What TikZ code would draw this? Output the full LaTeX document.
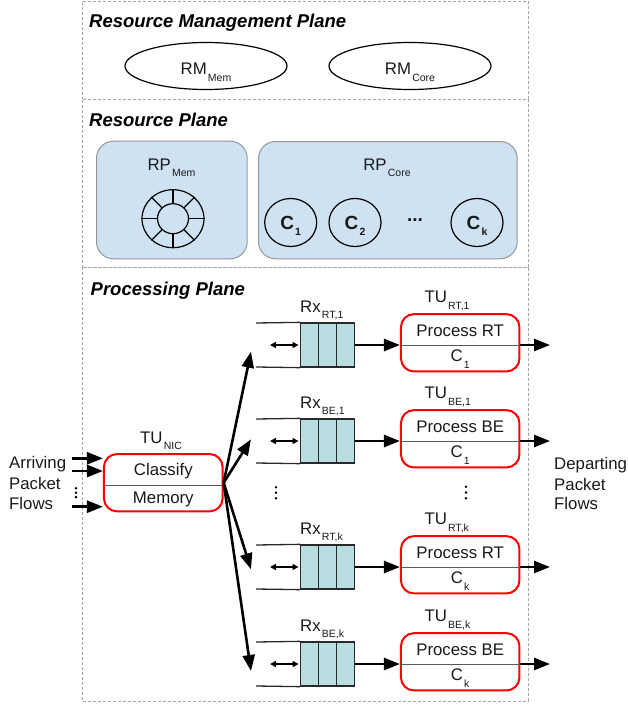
\documentclass[tikz,border=0pt]{standalone}
\usepackage{fontspec}
\setmainfont{Liberation Sans}
\usetikzlibrary{arrows.meta,shapes.geometric}
\definecolor{dashgray}{RGB}{165,165,165}
\definecolor{rpfill}{RGB}{207,226,243}
\definecolor{rpedge}{RGB}{150,150,150}
\definecolor{qfill}{RGB}{184,222,226}
\definecolor{qedge}{RGB}{40,40,40}
\definecolor{tured}{RGB}{255,0,0}
\definecolor{txt}{RGB}{25,25,25}
\newcommand{\sbl}[2]{#1\kern1.2pt\raisebox{-6.5pt}{\fontsize{10.5}{12}\selectfont #2}}
\tikzset{
  plane/.style={draw=dashgray, line width=0.8pt, dash pattern=on 3pt off 2pt, inner sep=0pt, outer sep=0pt, anchor=north west},
  ptitle/.style={anchor=base west, inner sep=0pt, font=\fontsize{18.5}{22}\selectfont\bfseries\itshape},
  lbl/.style={inner sep=0pt, text=txt},
  rmell/.style={ellipse, draw, line width=1.2pt, minimum width=162pt, minimum height=47pt, inner sep=0pt},
  rpbox/.style={draw=rpedge, fill=rpfill, line width=1pt, rounded corners=17pt, inner sep=0pt, anchor=north west},
  core/.style={ellipse, draw, line width=1.2pt, minimum width=52pt, minimum height=48pt, inner sep=0pt},
  corelbl/.style={lbl, anchor=base, font=\fontsize{19}{22}\selectfont\bfseries},
  ringo/.style={ellipse, draw, line width=1.2pt, minimum width=62pt, minimum height=58pt, inner sep=0pt},
  ringi/.style={ellipse, draw, line width=1.2pt, minimum width=31pt, minimum height=30pt, inner sep=0pt},
  tubox/.style={draw=tured, line width=2pt, rounded corners=13pt, minimum width=118.5pt, minimum height=57.3pt, inner sep=0pt},
  divider/.style={draw=black!65, line width=0.9pt},
  qbox/.style={draw=qedge, fill=qfill, line width=1.3pt, minimum width=54pt, minimum height=44pt, inner sep=0pt},
  qline/.style={draw=qedge, line width=1.3pt},
  bigarrow/.style={line width=2.6pt, -{Triangle[length=16pt,width=12pt]}},
  darrow/.style={line width=1.5pt, {Triangle[length=6pt,width=6pt]}-{Triangle[length=6pt,width=6pt]}},
}
\newcommand{\makerow}[7]{%
  \node[qbox] (q#1) at (327.7,#2) {};
  \draw[qline] ([xshift=-9pt]q#1.north) -- ([xshift=-9pt]q#1.south);
  \draw[qline] ([xshift=9pt]q#1.north) -- ([xshift=9pt]q#1.south);
  \coordinate (qt#1) at (256,#2-22);
  \coordinate (qb#1) at (256,#2+22);
  \draw[qline] (qt#1) -- (q#1.north west);
  \draw[qline] (qb#1) -- (q#1.south west);
  \coordinate (dl#1) at (270,#2);
  \draw[darrow] (dl#1) -- ([xshift=-1.5pt]q#1.west);
  \node[tubox] (tu#1) at (460.2,#2-2.2) {};
  \draw[divider] (q#1.east -| tu#1.west) -- (q#1.east -| tu#1.east);
  \draw[bigarrow] (q#1.east) -- (q#1.east -| tu#1.west);
  \coordinate (o#1) at (550,#2);
  \draw[bigarrow] (q#1.east -| tu#1.east) -- (o#1);
  \node[lbl, anchor=base] (tp#1) at (460.2,#2-8.4) {#5};
  \node[lbl, anchor=base] (tb#1) at (460.2,#2+16.7) {\sbl{C}{#6}};
  \node[lbl, anchor=base west] (rx#1) at (300,#2-33) {\sbl{Rx}{#3}};
  \node[lbl, anchor=base west] (tul#1) at (424.3,#2-42.3) {\sbl{TU}{#4}};
  \coordinate (in#1) at (251,#2+#7);
  \draw[bigarrow] (nic.east) -- (in#1);
}
\begin{document}
\begin{tikzpicture}[x=1pt,y=-1pt,font=\fontsize{16.8}{20}\selectfont]
\useasboundingbox (0,0) rectangle (627,706);

% planes
\node[plane, minimum width=445.3pt, minimum height=98pt] (rmp) at (82.7,1) {};
\node[plane, minimum width=445.3pt, minimum height=168pt] (rpp) at (82.7,99) {};
\node[plane, minimum width=445.3pt, minimum height=434pt] (ppp) at (82.7,267) {};
\node[ptitle] (t1) at (89,28) {Resource Management Plane};
\node[ptitle] (t2) at (89,126) {Resource Plane};
\node[ptitle] (t3) at (90.5,295) {Processing Plane};

% resource management
\node[rmell] (rmmem) at (206,66) {};
\node[rmell] (rmcore) at (410,66) {};
\node[lbl, anchor=base] (rmmeml) at (206,75) {\sbl{RM}{Mem}};
\node[lbl, anchor=base] (rmcorel) at (410,75) {\sbl{RM}{Core}};

% resource plane
\node[rpbox, minimum width=150.7pt, minimum height=117.6pt] (rpmem) at (96,140.7) {};
\node[rpbox, minimum width=258.7pt, minimum height=117.3pt] (rpcore) at (258,141) {};
\node[lbl, anchor=base] (rpmeml) at (171.5,170) {\sbl{RP}{Mem}};
\node[lbl, anchor=base] (rpcorel) at (387,170) {\sbl{RP}{Core}};
\node[ringo] (ring) at (173,218.7) {};
\node[ringi] (ringin) at (173,218.7) {};
\foreach \a in {0,45,...,315} \draw[line width=1.2pt] (ringin.\a) -- (ring.\a);
\node[core] (c1) at (290.7,222.5) {};
\node[core] (c2) at (355,222.5) {};
\node[core] (ck) at (477,222.5) {};
\node[corelbl] (c1l) at (290.7,229) {\sbl{C}{1}};
\node[corelbl] (c2l) at (355,229) {\sbl{C}{2}};
\node[corelbl] (ckl) at (477,229) {\sbl{C}{k}};
\node[corelbl] (cdots) at (415,221) {...};

% processing plane
\node[tubox, minimum width=118.7pt, minimum height=57.3pt] (nic) at (163.3,482.7) {};
\draw[divider] ([yshift=-2.3pt]nic.west) -- ([yshift=-2.3pt]nic.east);
\node[lbl, anchor=base] (cls) at (163.3,475) {Classify};
\node[lbl, anchor=base] (mem) at (163.3,503.3) {Memory};
\node[lbl, anchor=base west] (nicl) at (140,443.3) {\sbl{TU}{NIC}};

\coordinate (a1) at (71.7,458.3);
\coordinate (a2) at (71.7,471);
\coordinate (a3) at (71.7,506.7);
\draw[bigarrow] (a1) -- (a1 -| nic.west);
\draw[bigarrow] (a2) -- (a2 -| nic.west);
\draw[bigarrow] (a3) -- (a3 -| nic.west);
\node[lbl, anchor=base west] (arr1) at (9,468.3) {Arriving};
\node[lbl, anchor=base west] (arr2) at (9,489.5) {Packet};
\node[lbl, anchor=base west] (arr3) at (9,509) {Flows};
\node[lbl, anchor=base west] (dep1) at (554,469.3) {Departing};
\node[lbl, anchor=base west] (dep2) at (554,490) {Packet};
\node[lbl, anchor=base west] (dep3) at (554,509.3) {Flows};

\foreach \yy in {488.3,492.7,497.1} \fill (76,\yy) circle (1.4pt);
\foreach \yy in {487.3,492.8,498.3} \fill (276,\yy) circle (1.4pt);
\foreach \yy in {486.7,492.5,498.3} \fill (466,\yy) circle (1.4pt);

\makerow{1}{345}{RT,1}{RT,1}{Process RT}{1}{6.7}
\makerow{2}{441}{BE,1}{BE,1}{Process BE}{1}{-1.7}
\makerow{3}{567}{RT,k}{RT,k}{Process RT}{k}{2.3}
\makerow{4}{664}{BE,k}{BE,k}{Process BE}{k}{7}
\end{tikzpicture}
\end{document}
